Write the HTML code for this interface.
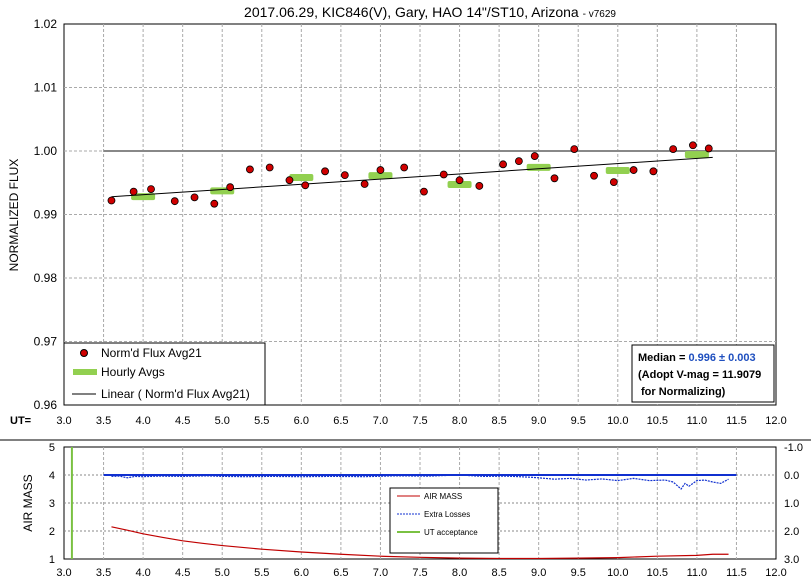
<!DOCTYPE html>
<html><head><meta charset="utf-8"><style>
body{margin:0;background:#fff;font-family:"Liberation Sans",Arial,sans-serif}
svg text{font-family:"Liberation Sans",Arial,sans-serif}
</style></head><body>
<svg id="c" width="811" height="583" xmlns="http://www.w3.org/2000/svg">
<text x="430" y="17" text-anchor="middle" font-size="14">2017.06.29, KIC846(V), Gary, HAO 14"/ST10, Arizona <tspan font-size="10">- v7629</tspan></text>
<g id="top"></g>
<g id="bot"></g>
</svg>
<script>
const fluxX=[3.6,3.88,4.1,4.4,4.65,4.9,5.1,5.35,5.6,5.85,6.05,6.3,6.55,6.8,7.0,7.3,7.55,7.8,8.0,8.25,8.55,8.75,8.95,9.2,9.45,9.7,9.95,10.2,10.45,10.7,10.95,11.15];
const fluxY=[0.9922,0.9936,0.9940,0.9921,0.9927,0.9917,0.9943,0.9971,0.9974,0.9954,0.9946,0.9968,0.9962,0.9948,0.9970,0.9974,0.9936,0.9963,0.9954,0.9945,0.9979,0.9984,0.9992,0.9957,1.0003,0.9961,0.9951,0.9970,0.9968,1.0003,1.0009,1.0004];
const hourX=[4,5,6,7,8,9,10,11];
const hourY=[0.9929,0.9938,0.9959,0.9962,0.9948,0.9975,0.9970,0.9995];
const trendX=[3.6,11.2];
const trendY=[0.9928,0.9990];
const xTicks=[3.0,3.5,4.0,4.5,5.0,5.5,6.0,6.5,7.0,7.5,8.0,8.5,9.0,9.5,10.0,10.5,11.0,11.5,12.0];
const yTicks=[0.96,0.97,0.98,0.99,1.00,1.01,1.02];
const amX=[3.6,3.8,4.0,4.25,4.5,4.75,5.0,5.5,6.0,6.5,7.0,7.5,8.0,8.5,9.0,9.5,10.0,10.5,11.0,11.2,11.4];
const amY=[2.15,2.03,1.9,1.77,1.65,1.56,1.48,1.35,1.25,1.17,1.1,1.06,1.03,1.02,1.02,1.03,1.05,1.1,1.13,1.17,1.17];
const elX=[3.6,3.7,3.8,3.9,4.0,4.2,4.5,4.8,5.0,5.3,5.6,6.0,6.4,6.8,7.2,7.6,8.0,8.3,8.6,8.9,9.0,9.2,9.4,9.6,9.8,10.0,10.2,10.4,10.6,10.7,10.8,10.85,10.9,11.0,11.1,11.2,11.3,11.4];
const elY=[0.05,0.04,0.1,0.05,0.06,0.04,0.05,0.03,0.05,0.06,0.05,0.06,0.05,0.06,0.03,0.04,0.0,0.05,0.04,0.08,0.1,0.15,0.12,0.18,0.14,0.2,0.12,0.2,0.18,0.25,0.5,0.3,0.4,0.2,0.18,0.25,0.3,0.15];
const amTicks=[1,2,3,4,5];
const elTicks=[-1.0,0.0,1.0,2.0,3.0];

const NS="http://www.w3.org/2000/svg";
function mk(p,t,a){const e=document.createElementNS(NS,t);for(const k in a)e.setAttribute(k,a[k]);p.appendChild(e);return e;}
const X=v=>64+(v-3)*(712/9);
const Y=v=>405-(v-0.96)*(381/0.06);
const gTop=document.getElementById('top'),gBot=document.getElementById('bot');
mk(gTop,'rect',{x:64,y:24,width:712,height:381,fill:'none',stroke:'#000'});
xTicks.forEach((t,i)=>{if(i>0&&i<xTicks.length-1){const l=mk(gTop,'line',{x1:X(t),x2:X(t),y1:24,y2:405,stroke:'#aaa','stroke-dasharray':'3,2'});}
 const tx=mk(gTop,'text',{x:X(t),y:424,'text-anchor':'middle','font-size':'11'});tx.textContent=t.toFixed(1);
 });
yTicks.forEach((t,i)=>{if(i>0&&i<yTicks.length-1){const l=mk(gTop,'line',{x1:64,x2:776,y1:Y(t),y2:Y(t),stroke:'#aaa','stroke-dasharray':'3,2'});}
 const tx=mk(gTop,'text',{x:57,y:Y(t)+4,'text-anchor':'end','font-size':'12'});tx.textContent=t.toFixed(2);
 });
let t1=mk(gTop,'text',{x:10,y:424,'font-size':'11','font-weight':'bold'});t1.textContent='UT=';

let yl=mk(gTop,'text',{x:18,y:215,'font-size':'12','text-anchor':'middle',transform:'rotate(-90 18 215)'});yl.textContent='NORMALIZED FLUX';

let ref=mk(gTop,'line',{x1:X(3.5),x2:X(12),y1:Y(1),y2:Y(1),stroke:'#888','stroke-width':2});

hourX.forEach((h,i)=>{const r=mk(gTop,'rect',{x:X(h)-12,y:Y(hourY[i])-3,width:24,height:7,rx:2,fill:'#92d050'});
 });
let tl=mk(gTop,'line',{x1:X(trendX[0]),x2:X(trendX[1]),y1:Y(trendY[0]),y2:Y(trendY[1]),stroke:'#000'});

fluxX.forEach((x,i)=>{const c=mk(gTop,'circle',{cx:X(x),cy:Y(fluxY[i]),r:3.5,fill:'#d00000',stroke:'#000','stroke-width':0.8});
 });
const lg=mk(gTop,'g',{});
mk(lg,'rect',{x:64,y:343,width:201,height:62,fill:'#fff',stroke:'#000'});
mk(lg,'circle',{cx:84,cy:353,r:3.5,fill:'#d00000',stroke:'#000'});
mk(lg,'rect',{x:73,y:369,width:24,height:6,fill:'#92d050'});
mk(lg,'line',{x1:72,x2:96,y1:394,y2:394,stroke:'#000'});
[['Norm\'d Flux Avg21',357],['Hourly Avgs',376],['Linear ( Norm\'d Flux Avg21)',398]].forEach(a=>{const t=mk(lg,'text',{x:101,y:a[1],'font-size':'12'});t.textContent=a[0];});
const mb=mk(gTop,'g',{});
mk(mb,'rect',{x:632,y:345,width:142,height:57,fill:'#fff',stroke:'#000'});
let m1=mk(mb,'text',{x:638,y:361,'font-size':'11','font-weight':'bold'});m1.textContent='Median = ';
let m1b=mk(m1,'tspan',{fill:'#1f4fbf'});m1b.textContent='0.996 ± 0.003';
let m2=mk(mb,'text',{x:638,y:378,'font-size':'11','font-weight':'bold'});m2.textContent='(Adopt V-mag = 11.9079';
let m3=mk(mb,'text',{x:641,y:395,'font-size':'11','font-weight':'bold'});m3.textContent=' for Normalizing)';
mk(gTop,'line',{x1:0,x2:811,y1:440,y2:440,stroke:'#000'});
const BX=X, BY=v=>559-(v-1)*28, EY=v=>475+v*28;
mk(gBot,'rect',{x:64,y:447,width:712,height:112,fill:'none',stroke:'#000'});
xTicks.forEach((t,i)=>{if(i>0&&i<xTicks.length-1){const l=mk(gBot,'line',{x1:BX(t),x2:BX(t),y1:447,y2:559,stroke:'#aaa','stroke-dasharray':'3,2'});}
 const tx=mk(gBot,'text',{x:BX(t),y:576,'text-anchor':'middle','font-size':'11'});tx.textContent=t.toFixed(1);
 });
amTicks.forEach((t,i)=>{if(i>0&&i<amTicks.length-1){const l=mk(gBot,'line',{x1:64,x2:776,y1:BY(t),y2:BY(t),stroke:'#888','stroke-dasharray':'2,2'});}
 const tx=mk(gBot,'text',{x:55,y:BY(t)+4,'text-anchor':'end','font-size':'11'});tx.textContent=t;
 });
elTicks.forEach(t=>{const tx=mk(gBot,'text',{x:784,y:EY(t)+4,'font-size':'11'});tx.textContent=t.toFixed(1);
 });
let al=mk(gBot,'text',{x:32,y:503,'font-size':'12','text-anchor':'middle',transform:'rotate(-90 32 503)'});al.textContent='AIR MASS';

let ut=mk(gBot,'line',{x1:BX(3.1),x2:BX(3.1),y1:447,y2:559,stroke:'#7ac142','stroke-width':2});

let zl=mk(gBot,'line',{x1:BX(3.5),x2:BX(11.5),y1:EY(0),y2:EY(0),stroke:'#1030d0','stroke-width':2});

let ep=mk(gBot,'polyline',{points:elX.map((x,i)=>BX(x)+','+EY(elY[i])).join(' '),fill:'none',stroke:'#1030d0','stroke-width':1.2,'stroke-dasharray':'2,1'});

let ap=mk(gBot,'polyline',{points:amX.map((x,i)=>BX(x)+','+BY(amY[i])).join(' '),fill:'none',stroke:'#c00000','stroke-width':1.2});

const bl=mk(gBot,'g',{});
mk(bl,'rect',{x:390,y:488,width:108,height:65,fill:'#fff',stroke:'#000'});
mk(bl,'line',{x1:397,x2:420,y1:496,y2:496,stroke:'#c00000'});
mk(bl,'line',{x1:397,x2:420,y1:514,y2:514,stroke:'#1030d0','stroke-dasharray':'2,1'});
mk(bl,'line',{x1:397,x2:420,y1:532,y2:532,stroke:'#7ac142','stroke-width':2});
[['AIR MASS',499],['Extra Losses',517],['UT acceptance',535]].forEach(a=>{const t=mk(bl,'text',{x:424,y:a[1],'font-size':'8'});t.textContent=a[0];});
</script>
</body></html>
